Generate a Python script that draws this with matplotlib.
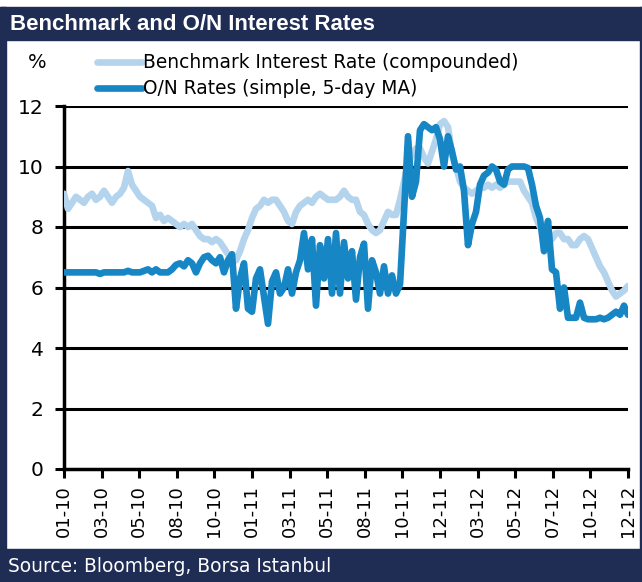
import numpy as np
import matplotlib
matplotlib.use("Agg")
from matplotlib import pyplot as plt
from matplotlib.patches import Rectangle

# benchmark (compounded), evenly spaced in time
benchmark = [
    9.1, 8.6, 8.8, 9.0, 8.9, 8.8, 9.0, 9.1, 8.9, 9.0,
    9.2, 9.0, 8.8, 9.0, 9.1, 9.3, 9.85, 9.4, 9.2, 9.0,
    8.9, 8.8, 8.7, 8.3, 8.4, 8.2, 8.3, 8.2, 8.1, 8.0,
    8.1, 8.0, 8.1, 7.9, 7.7, 7.6, 7.6, 7.5, 7.6, 7.5,
    7.3, 7.1, 6.9, 6.9, 7.2, 7.6, 7.9, 8.3, 8.6, 8.7,
    8.9, 8.8, 8.9, 8.9, 8.7, 8.5, 8.2, 8.1, 8.5, 8.7,
    8.8, 8.9, 8.8, 9.0, 9.1, 9.0, 8.9, 8.9, 8.9, 9.0,
    9.2, 9.0, 8.9, 8.9, 8.5, 8.4, 8.1, 7.9, 7.8, 7.9,
    8.2, 8.5, 8.4, 8.4, 8.9, 9.5, 10.1, 10.4, 10.6, 10.6,
    10.3, 10.1, 10.5, 10.9, 11.4, 11.5, 11.3, 10.4, 10.0, 9.5,
    9.3, 9.2, 9.1, 9.2, 9.3, 9.3, 9.4, 9.3, 9.4, 9.3,
    9.4, 9.5, 9.5, 9.5, 9.5, 9.2, 9.0, 8.8, 8.3, 8.0,
    7.9, 7.7, 7.6, 7.8, 7.8, 7.6, 7.6, 7.4, 7.4, 7.6,
    7.7, 7.6, 7.3, 7.0, 6.7, 6.5, 6.2, 5.9, 5.7, 5.8,
    5.9, 6.05,
]

# O/N rates (simple, 5-day MA)
overnight = [
    6.5, 6.5, 6.5, 6.5, 6.5, 6.5, 6.5, 6.5, 6.5, 6.45,
    6.5, 6.5, 6.5, 6.5, 6.5, 6.5, 6.55, 6.5, 6.5, 6.5,
    6.55, 6.6, 6.5, 6.6, 6.5, 6.5, 6.5, 6.6, 6.75, 6.8,
    6.7, 6.9, 6.8, 6.5, 6.8, 7.0, 7.05, 6.9, 6.8, 7.0,
    6.5, 6.9, 7.1, 5.3, 6.3, 6.8, 5.3, 5.2, 6.3, 6.6,
    5.7, 4.8, 6.2, 6.5, 5.8, 6.0, 6.6, 5.8, 6.5, 6.9,
    7.8, 6.6, 7.6, 5.4, 7.4, 6.3, 7.6, 5.8, 7.8, 5.8,
    7.5, 6.3, 7.2, 5.6, 7.0, 7.45, 5.3, 6.9, 6.5, 5.8,
    6.7, 5.8, 6.4, 5.8, 6.1, 8.5, 11.0, 9.0, 9.5, 11.2,
    11.4, 11.3, 11.2, 11.3, 10.9, 10.0, 11.0, 10.5, 9.9, 10.0,
    9.2, 7.4, 8.1, 8.5, 9.4, 9.7, 9.8, 10.0, 9.9, 9.5,
    9.4, 9.9, 10.0, 10.0, 10.0, 10.0, 9.95, 9.4, 8.7, 8.3,
    7.2, 8.2, 6.6, 6.5, 5.3, 6.0, 5.0, 5.0, 5.0, 5.5,
    5.0, 4.95, 4.95, 4.95, 5.0, 4.95, 5.0, 5.1, 5.2, 5.1,
    5.4, 5.1,
]

tick_labels = ["01-10", "03-10", "05-10", "08-10", "10-10", "01-11", "03-11", "05-11",
               "08-11", "10-11", "12-11", "03-12", "05-12", "07-12", "10-12", "12-12"]

navy = "#1F2D54"
light = "#B4D4EE"
dark = "#1786C4"

plt.rcParams["font.family"] = "DejaVu Sans"

fig = plt.figure(figsize=(6.42, 5.82), dpi=100)

# frame: title band, source band, side borders
fig.patches.append(Rectangle((0, 1 - 40 / 582), 1, 33 / 582, transform=fig.transFigure,
                             color=navy, zorder=0))
fig.patches.append(Rectangle((0, 0), 1, 33 / 582, transform=fig.transFigure,
                             color=navy, zorder=0))
fig.patches.append(Rectangle((0, 0), 6 / 642, 1 - 7 / 582, transform=fig.transFigure,
                             color=navy, zorder=0))
fig.patches.append(Rectangle((1 - 2 / 642, 0), 2 / 642, 1 - 7 / 582, transform=fig.transFigure,
                             color=navy, zorder=0))

fig.text(10 / 642, 1 - 24 / 582, "Benchmark and O/N Interest Rates", color="white",
         fontsize=16, fontweight="bold", family="Liberation Sans", va="center")
fig.text(8 / 642, 15 / 582, "Source: Bloomberg, Borsa Istanbul", color="white",
         fontsize=13.4, va="center")

ax = fig.add_axes([64 / 642, 113 / 582, 564 / 642, 363 / 582])
x = np.arange(len(benchmark))
ax.plot(x, benchmark, color=light, lw=4.8, solid_joinstyle="round", solid_capstyle="round",
        label="Benchmark Interest Rate (compounded)", zorder=3)
ax.plot(x, overnight, color=dark, lw=4.8, solid_joinstyle="round", solid_capstyle="round",
        label="O/N Rates (simple, 5-day MA)", zorder=4)

ax.set_xlim(0, len(benchmark) - 1)
ax.set_ylim(0, 12)
ax.set_yticks(range(0, 13, 2))
ax.set_xticks(np.linspace(0, len(benchmark) - 1, len(tick_labels)))
ax.set_xticklabels(tick_labels, rotation=90)
ax.tick_params(axis="both", width=2.2, length=6.5, color="black")
ax.tick_params(axis="x", labelsize=13, pad=5)
ax.tick_params(axis="y", labelsize=14.5, pad=8)
for y in range(2, 13, 2):
    ax.axhline(y, color="black", lw=2.2, zorder=1)
for s in ["top", "right"]:
    ax.spines[s].set_visible(False)
ax.spines["left"].set_linewidth(2.5)
ax.spines["bottom"].set_linewidth(2.5)

fig.text(37 / 642, 1 - 63 / 582, "%", fontsize=14, ha="center", va="center")
ax.legend(loc="upper left", bbox_to_anchor=(90 / 642, 1 - 46 / 582),
          bbox_transform=fig.transFigure, frameon=False, fontsize=13.4,
          handlelength=2.4, handletextpad=0.05, labelspacing=0.36, borderaxespad=0)

fig.savefig("out.png", dpi=100)
